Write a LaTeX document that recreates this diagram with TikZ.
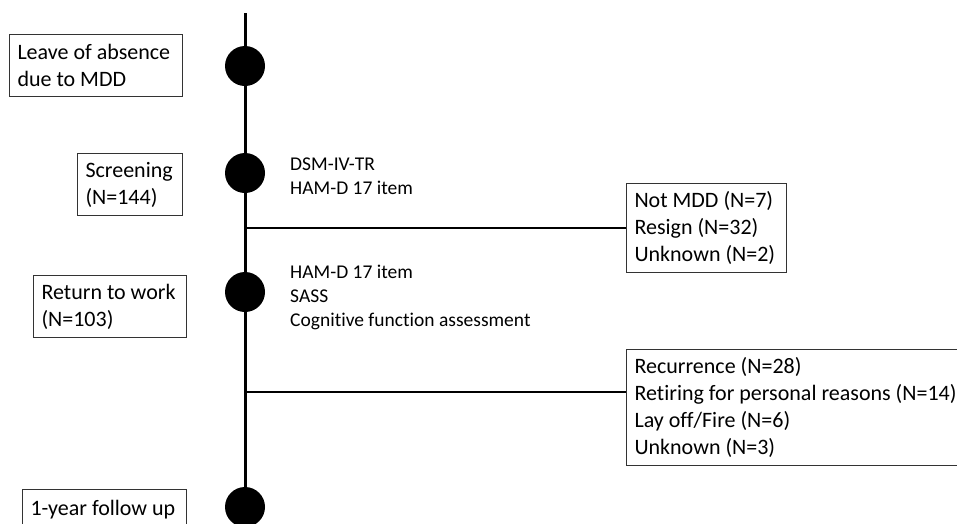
\documentclass[tikz,border=0pt]{standalone}
\usepackage{fontspec}
\setmainfont{Carlito}[Ligatures=NoCommon]
\usetikzlibrary{positioning, calc}

\tikzset{
  stagebox/.style={draw=black!80, line width=1pt, align=flush left, inner xsep=8pt, inner ysep=0pt,
    anchor=north west, font=\fontsize{22}{27}\selectfont},
  dropbox/.style={stagebox},
  tdot/.style={circle, fill=black, minimum size=40pt, inner sep=0pt},
  assess/.style={align=flush left, anchor=west, inner sep=0pt, font=\fontsize{19.5}{24}\selectfont},
  branch/.style={line width=1.6pt},
}

\begin{document}
\begin{tikzpicture}[x=1pt, y=-1pt]
    \useasboundingbox (0,0) rectangle (957,523);

    \coordinate (top) at (245,13);
    \coordinate (bottom) at (245,540);
    \draw[line width=3pt] (top) -- (bottom);

    \node[tdot] (leave) at (245,66) {};
    \node[tdot] (screen) at (245,173) {};
    \node[tdot] (rtw) at (245,292) {};
    \node[tdot] (follow) at (245,507) {};

    \node[stagebox, text width=157pt, minimum height=62pt] (leavebox) at (9,34)
      {Leave of absence\\due to MDD};
    \node[stagebox, text width=89pt, minimum height=62pt] (screenbox) at (77,153)
      {Screening\\(N=144)};
    \node[stagebox, text width=137pt, minimum height=62pt] (rtwbox) at (33,275)
      {Return to work\\(N=103)};
    \node[stagebox, text width=148pt, minimum height=40pt] (followbox) at (22,489)
      {1-year follow up};

    \node[assess] (screentests) at (290,176.5) {DSM-IV-TR\\HAM-D 17 item};
    \node[assess] (rtwtests) at (290,297) {HAM-D 17 item\\SASS\\Cognitive function assessment};

    \node[dropbox, text width=144pt, minimum height=89pt] (drop1) at (626,183)
      {Not MDD (N=7)\\Resign (N=32)\\Unknown (N=2)};
    \node[dropbox, text width=340pt, minimum height=116pt] (drop2) at (626,349)
      {Recurrence (N=28)\\Retiring for personal reasons (N=14)\\Lay off/Fire (N=6)\\Unknown (N=3)};

    \coordinate (split1) at (245,228);
    \coordinate (split2) at (245,392);
    \draw[branch] (split1) -- (split1 -| drop1.west);
    \draw[branch] (split2) -- (split2 -| drop2.west);
  \end{tikzpicture}
\end{document}
